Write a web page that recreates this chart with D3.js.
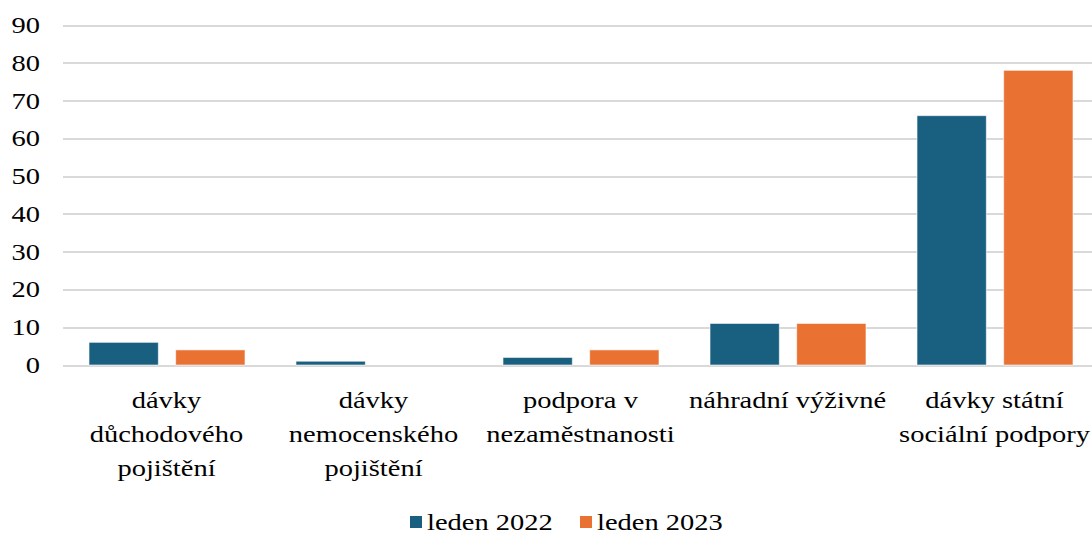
<!DOCTYPE html>
<meta charset="utf-8">
<style>
body { margin: 0; background: #fff; overflow: hidden; }
svg text { font-family: "Liberation Serif", "Times New Roman", serif; fill: #000; }
.grid line { stroke: #d9d9d9; stroke-width: 2; shape-rendering: crispEdges; }
.grid path { stroke-width: 0; }
.bar { stroke: #ffffff; stroke-opacity: 0.6; stroke-width: 1; }
</style>
<body>
<script src="https://d3js.org/d3.v7.min.js"></script>
<script>
// data
var categories = ["dd", "dn", "pn", "nv", "ds"];
var catLabels = [
	["dávky", "důchodového", "pojištění"],
	["dávky", "nemocenského", "pojištění"],
	["podpora v", "nezaměstnanosti"],
	["náhradní výživné"],
	["dávky státní", "sociální podpory"]
];
var seriesNames = ["leden 2022", "leden 2023"];
var values2022 = [6, 1, 2, 11, 66];
var values2023 = [4, 0, 4, 11, 78];
var yTicks = [0, 10, 20, 30, 40, 50, 60, 70, 80, 90];
var colors = ["#195f80", "#e97132"];

var W = 1092, H = 534;
var margin = {top: 25, left: 63, bottom: 169};
var width = 1035,
	height = H - margin.top - margin.bottom;
var sx = 1.24; // text is stretched horizontally in the reference
var fs = 23;

var svg = d3.select("body").append("svg")
	.attr("width", W).attr("height", H);
var g = svg.append("g")
	.attr("transform", "translate(" + margin.left + "," + margin.top + ")");

var x0 = d3.scaleBand().domain(categories).range([0, width]);
var x1 = d3.scaleBand().domain([0, 1]).range([26, x0.bandwidth() - 25]).paddingInner(0.2);
var y = d3.scaleLinear().domain([0, 90]).range([height, 0]);

// gridlines
g.append("g")
	.attr("class", "grid")
	.call(d3.axisLeft(y).tickValues(yTicks).tickSize(-width).tickFormat(""));

// y tick labels
g.selectAll(".ylab").data(yTicks).enter().append("text")
	.attr("transform", function(d) { return "translate(" + (-23) + "," + (y(d) + 8) + ") scale(" + sx + ",1)"; })
	.attr("text-anchor", "end")
	.style("font-size", fs + "px")
	.text(function(d) { return d; });

// bars
var series = [values2022, values2023];
series.forEach(function(vals, si) {
	g.selectAll(".bar" + si).data(vals).enter().append("rect")
		.attr("class", "bar")
		.attr("x", function(d, i) { return x0(categories[i]) + x1(si); })
		.attr("width", x1.bandwidth())
		.attr("y", function(d) { return y(d); })
		.attr("height", function(d) { return height - y(d); })
		.style("fill", colors[si]);
});

// category labels
categories.forEach(function(c, i) {
	var cx = x0(c) + x0.bandwidth() / 2;
	catLabels[i].forEach(function(line, li) {
		g.append("text")
			.attr("transform", "translate(" + cx + "," + (height + 43 + li * 34) + ") scale(" + sx + ",1)")
			.attr("text-anchor", "middle")
			.style("font-size", fs + "px")
			.text(line);
	});
});

// legend
var legX = [410, 580];
seriesNames.forEach(function(n, i) {
	svg.append("rect")
		.attr("x", legX[i]).attr("y", 516)
		.attr("width", 12).attr("height", 12)
		.style("fill", colors[i]);
	svg.append("text")
		.attr("transform", "translate(" + (legX[i] + 17) + "," + 530 + ") scale(" + sx + ",1)")
		.style("font-size", fs + "px")
		.text(n);
});
</script>
